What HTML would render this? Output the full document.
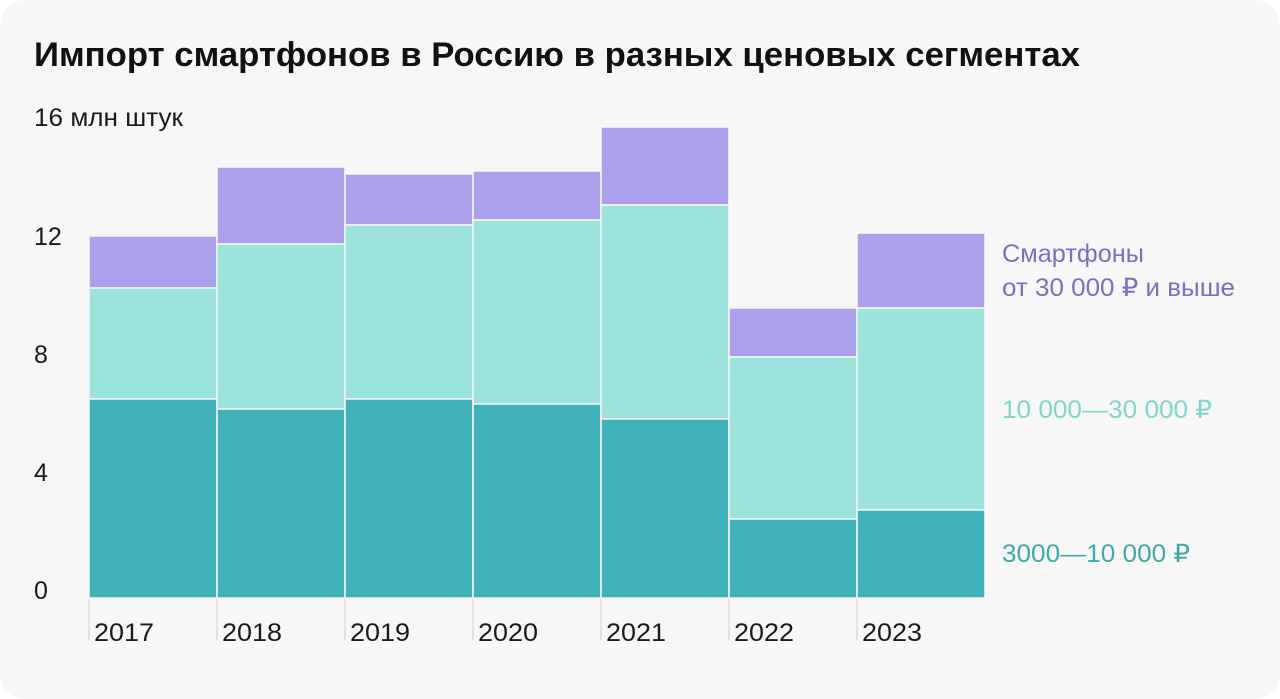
<!DOCTYPE html>
<html><head><meta charset="utf-8"><style>
html,body{margin:0;padding:0;background:#fff;}
svg{display:block;font-family:"Liberation Sans",sans-serif;}
</style></head><body>
<svg width="1280" height="699" viewBox="0 0 1280 699" xmlns="http://www.w3.org/2000/svg">
<rect x="0" y="0" width="1280" height="699" rx="26" fill="#f7f7f7"/>
<text x="34" y="66" font-size="34" font-weight="bold" fill="#111" textLength="1046" lengthAdjust="spacingAndGlyphs">Импорт смартфонов в Россию в разных ценовых сегментах</text>
<g font-size="25" fill="#1a1a1a">
<text x="34" y="126" textLength="149" lengthAdjust="spacingAndGlyphs">16 млн штук</text>
<text x="34" y="245">12</text>
<text x="34" y="363">8</text>
<text x="34" y="481">4</text>
<text x="34" y="599">0</text>
</g>
<g stroke="#dedede" stroke-width="1.5">
<line x1="89" y1="598" x2="89" y2="640"/><line x1="217" y1="598" x2="217" y2="640"/>
<line x1="345" y1="598" x2="345" y2="640"/><line x1="473" y1="598" x2="473" y2="640"/>
<line x1="601" y1="598" x2="601" y2="640"/><line x1="729" y1="598" x2="729" y2="640"/>
<line x1="857" y1="598" x2="857" y2="640"/>
</g>
<g stroke="#f7f7f7" stroke-width="1.5">
<rect x="89" y="236" width="128" height="52" fill="#aba0ec"/><rect x="89" y="288" width="128" height="111" fill="#9ce3db"/><rect x="89" y="399" width="128" height="199" fill="#3fb1b9"/>
<rect x="217" y="167" width="128" height="77" fill="#aba0ec"/><rect x="217" y="244" width="128" height="165" fill="#9ce3db"/><rect x="217" y="409" width="128" height="189" fill="#3fb1b9"/>
<rect x="345" y="174" width="128" height="51" fill="#aba0ec"/><rect x="345" y="225" width="128" height="174" fill="#9ce3db"/><rect x="345" y="399" width="128" height="199" fill="#3fb1b9"/>
<rect x="473" y="171" width="128" height="49" fill="#aba0ec"/><rect x="473" y="220" width="128" height="184" fill="#9ce3db"/><rect x="473" y="404" width="128" height="194" fill="#3fb1b9"/>
<rect x="601" y="127" width="128" height="78" fill="#aba0ec"/><rect x="601" y="205" width="128" height="214" fill="#9ce3db"/><rect x="601" y="419" width="128" height="179" fill="#3fb1b9"/>
<rect x="729" y="308" width="128" height="49" fill="#aba0ec"/><rect x="729" y="357" width="128" height="162" fill="#9ce3db"/><rect x="729" y="519" width="128" height="79" fill="#3fb1b9"/>
<rect x="857" y="233" width="128" height="75" fill="#aba0ec"/><rect x="857" y="308" width="128" height="202" fill="#9ce3db"/><rect x="857" y="510" width="128" height="88" fill="#3fb1b9"/>
</g>
<g font-size="25" fill="#1a1a1a">
<text x="94" y="641" textLength="60" lengthAdjust="spacingAndGlyphs">2017</text><text x="222" y="641" textLength="60" lengthAdjust="spacingAndGlyphs">2018</text><text x="350" y="641" textLength="60" lengthAdjust="spacingAndGlyphs">2019</text>
<text x="478" y="641" textLength="60" lengthAdjust="spacingAndGlyphs">2020</text><text x="606" y="641" textLength="60" lengthAdjust="spacingAndGlyphs">2021</text><text x="734" y="641" textLength="60" lengthAdjust="spacingAndGlyphs">2022</text><text x="862" y="641" textLength="60" lengthAdjust="spacingAndGlyphs">2023</text>
</g>
<g font-size="25">
<text x="1002" y="262" fill="#7a6fc4" textLength="142" lengthAdjust="spacingAndGlyphs">Смартфоны</text>
<text x="1002" y="296" fill="#7a6fc4" textLength="233" lengthAdjust="spacingAndGlyphs">от 30 000 ₽ и выше</text>
<text x="1002" y="418" fill="#80d6cc" textLength="210" lengthAdjust="spacingAndGlyphs">10 000—30 000 ₽</text>
<text x="1002" y="562" fill="#42a9aa" textLength="188" lengthAdjust="spacingAndGlyphs">3000—10 000 ₽</text>
</g>
</svg>
</body></html>
